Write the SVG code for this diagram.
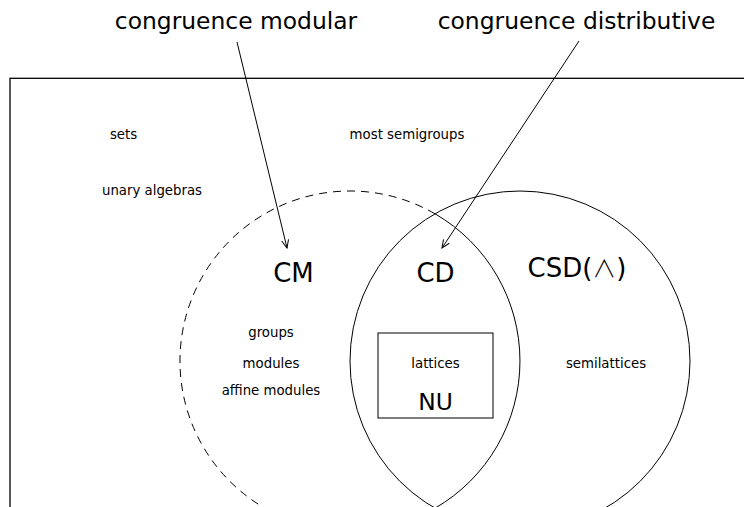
<svg xmlns="http://www.w3.org/2000/svg" width="744" height="507" viewBox="0 0 744 507">
<style>
text{font-family:"DejaVu Sans","Liberation Sans",sans-serif;fill:#000}
.big{font-size:23.4px}
.lbl{font-size:26px}
.sm{font-size:13.3px}
.wedge{font-family:"Noto Sans CJK JP","DejaVu Sans",sans-serif;font-weight:300;font-size:24px}
.line{fill:none;stroke:#000;stroke-width:1}
.dash{fill:none;stroke:#000;stroke-width:1;stroke-dasharray:8 6}
</style>
<defs>
<marker id="arr" viewBox="0 0 10 10" refX="9" refY="5" markerWidth="10" markerHeight="10" markerUnits="userSpaceOnUse" orient="auto">
<path d="M1,1.5 L9,5 L1,8.5" fill="none" stroke="#000" stroke-width="1"/>
</marker>
</defs>
<rect x="10" y="78.3" width="800" height="500" fill="none" stroke="#000" stroke-width="1.3"/>
<g id="cm">
<path class="dash" d="M435,213.8 A170,170 0 1 0 435,508.2"/>
<path class="line" d="M435,213.8 A170,170 0 0 1 435,508.2"/>
<text class="lbl" x="293.5" y="282" text-anchor="middle">CM</text>
</g>
<g id="csd">
<circle class="line" cx="520" cy="361" r="170"/>
<text class="lbl" x="577" y="277" text-anchor="middle">CSD(<tspan class="wedge">∧</tspan>)</text>
</g>
<g id="cd">
<text class="lbl" x="435.5" y="282" text-anchor="middle">CD</text>
</g>
<g id="nu">
<rect x="378" y="333" width="115" height="85" fill="none" stroke="#000" stroke-width="1"/>
<text class="sm" x="435.5" y="368" text-anchor="middle">lattices</text>
<text class="big" x="435.5" y="410" text-anchor="middle">NU</text>
</g>
<g id="labels">
<text class="big" x="236" y="29" text-anchor="middle">congruence modular</text>
<text class="big" x="576.5" y="29" text-anchor="middle">congruence distributive</text>
<text class="sm" x="123.5" y="139" text-anchor="middle">sets</text>
<text class="sm" x="152" y="195" text-anchor="middle">unary algebras</text>
<text class="sm" x="407" y="139" text-anchor="middle">most semigroups</text>
<text class="sm" x="271" y="337" text-anchor="middle">groups</text>
<text class="sm" x="271" y="368" text-anchor="middle">modules</text>
<text class="sm" x="271" y="395" text-anchor="middle">affine modules</text>
<text class="sm" x="606" y="368" text-anchor="middle">semilattices</text>
</g>
<g id="connectors">
<line class="line" x1="237" y1="42" x2="287" y2="248" marker-end="url(#arr)"/>
<line class="line" x1="579" y1="41" x2="442" y2="248" marker-end="url(#arr)"/>
</g>
</svg>
